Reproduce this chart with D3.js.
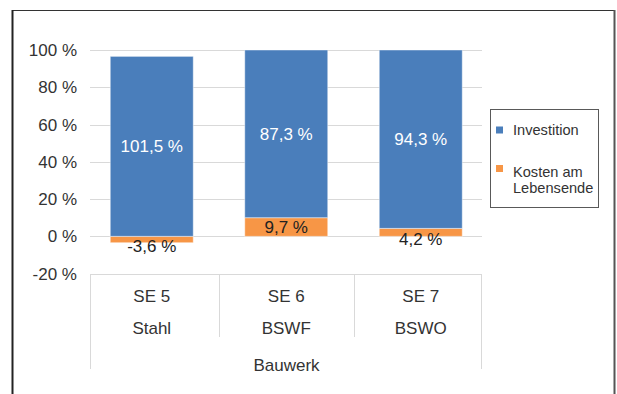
<!DOCTYPE html>
<html>
<head>
<meta charset="utf-8">
<script src="https://cdn.jsdelivr.net/npm/d3@7/dist/d3.min.js"></script>
<style>
  body { margin: 0; background: #fff; }
  text { font-family: "Liberation Sans", Arial, sans-serif; }
</style>
</head>
<body>
<svg id="chart" width="617" height="394"></svg>
<script>
// Kategorien (zweistufige Achse) und Werte je Reihe in %
const kennungen = ["SE 5", "SE 6", "SE 7"];
const bauweisen = ["Stahl", "BSWF", "BSWO"];
const gruppe = "Bauwerk";
const investition = [101.5, 87.3, 94.3];
const kostenLebensende = [-3.6, 9.7, 4.2];
const serien = ["Investition", "Kosten am Lebensende"];
const farben = ["#4a7ebb", "#f79646"];
const yTicks = [-20, 0, 20, 40, 60, 80, 100];

const svg = d3.select("#chart");
// Zahlformat mit Dezimalkomma und einfachem Bindestrich als Minus
const fmt = v => d3.format(".1f")(v).replace(".", ",").replace("\u2212", "-") + " %";

// Rahmen des Diagrammbereichs
svg.append("line").attr("x1", 12).attr("x2", 615).attr("y1", 10.5).attr("y2", 10.5)
  .attr("stroke", "#333").attr("stroke-width", 1);
svg.append("line").attr("x1", 12.5).attr("x2", 12.5).attr("y1", 10).attr("y2", 394)
  .attr("stroke", "#222").attr("stroke-width", 2);
svg.append("line").attr("x1", 614.5).attr("x2", 614.5).attr("y1", 10).attr("y2", 394)
  .attr("stroke", "#555").attr("stroke-width", 2);

const plotLeft = 90, plotRight = 482;
const y = d3.scaleLinear().domain([-20, 100]).range([273.6, 50]);
const x = d3.scaleBand().domain(kennungen).range([84.5, 488]).paddingInner(0).paddingOuter(0);
const barW = x.bandwidth() * 0.617;

// Gitternetzlinien
svg.append("g").selectAll("line").data(yTicks.filter(t => t > -20)).join("line")
  .attr("x1", plotLeft).attr("x2", plotRight)
  .attr("y1", d => Math.round(y(d)) + 0.5).attr("y2", d => Math.round(y(d)) + 0.5)
  .attr("stroke", "#d9d9d9").attr("stroke-width", 1);

// Y-Achsenbeschriftung
svg.append("g").selectAll("text").data(yTicks).join("text")
  .attr("x", 77).attr("y", d => y(d) + 6)
  .attr("text-anchor", "end").attr("font-size", 17).attr("fill", "#333")
  .text(d => d + " %");

// 100-%-gestapelte Werte (Anteil an der Summe der Beträge)
const rows = kennungen.map((k, i) => {
  const tot = Math.abs(investition[i]) + Math.abs(kostenLebensende[i]);
  return { kat: k, inv: investition[i] / tot * 100, kost: kostenLebensende[i] / tot * 100,
           invRaw: investition[i], kostRaw: kostenLebensende[i] };
});
const stack = d3.stack().keys(["kost", "inv"]).offset(d3.stackOffsetDiverging)(rows);
const serieIdx = { inv: 0, kost: 1 };

stack.forEach(layer => {
  const idx = serieIdx[layer.key];
  const g = svg.append("g");
  g.selectAll("rect").data(layer).join("rect")
    .attr("x", d => x(d.data.kat) + (x.bandwidth() - barW) / 2)
    .attr("width", barW)
    .attr("y", d => y(Math.max(d[0], d[1])))
    .attr("height", d => Math.abs(y(d[0]) - y(d[1])))
    .attr("fill", farben[idx])
    .attr("stroke", "rgba(255,255,255,0.45)").attr("stroke-width", 1);

  g.selectAll("text").data(layer).join("text")
    .attr("x", d => x(d.data.kat) + x.bandwidth() / 2)
    .attr("y", d => {
      const mid = (y(d[0]) + y(d[1])) / 2;
      const h = Math.abs(y(d[0]) - y(d[1]));
      return mid + 6 + (h < 12 ? 6.4 : 0);
    })
    .attr("text-anchor", "middle").attr("font-size", 17)
    .attr("fill", idx === 0 ? "#ffffff" : "#222")
    .text(d => fmt(layer.key === "inv" ? d.data.invRaw : d.data.kostRaw));
});

// Zweistufige Kategorienachse
const ax = svg.append("g").attr("stroke", "#d9d9d9").attr("stroke-width", 1);
const yTop = Math.round(y(-20)) + 0.5;
ax.append("line").attr("x1", plotLeft).attr("x2", plotRight).attr("y1", yTop).attr("y2", yTop);
ax.append("line").attr("x1", plotLeft + 0.5).attr("x2", plotLeft + 0.5).attr("y1", yTop).attr("y2", 369);
ax.append("line").attr("x1", plotRight - 0.5).attr("x2", plotRight - 0.5).attr("y1", yTop).attr("y2", 369);
ax.selectAll("line.div").data(kennungen.slice(1)).join("line").attr("class", "div")
  .attr("x1", d => Math.round(x(d)) + 0.5).attr("x2", d => Math.round(x(d)) + 0.5)
  .attr("y1", yTop).attr("y2", 337);

svg.append("g").selectAll("text").data(kennungen).join("text")
  .attr("x", d => x(d) + x.bandwidth() / 2).attr("y", 301.5)
  .attr("text-anchor", "middle").attr("font-size", 17).attr("fill", "#333")
  .text(d => d);
svg.append("g").selectAll("text").data(bauweisen).join("text")
  .attr("x", (d, i) => x(kennungen[i]) + x.bandwidth() / 2).attr("y", 334)
  .attr("text-anchor", "middle").attr("font-size", 17).attr("fill", "#333")
  .text(d => d);
svg.append("text").attr("x", (plotLeft + plotRight) / 2 + 0.5).attr("y", 371)
  .attr("text-anchor", "middle").attr("font-size", 17).attr("fill", "#333")
  .text(gruppe);

// Legende
const lg = svg.append("g");
lg.append("rect").attr("x", 490.5).attr("y", 109.5).attr("width", 108).attr("height", 98)
  .attr("fill", "#fff").attr("stroke", "#595959").attr("stroke-width", 1);
const legendY = [130, 168.5];
serien.forEach((s, i) => {
  lg.append("rect").attr("x", 496).attr("y", legendY[i] - 3.5).attr("width", 7).attr("height", 7)
    .attr("fill", farben[i]);
  const words = s === "Kosten am Lebensende" ? ["Kosten am", "Lebensende"] : [s];
  words.forEach((w, j) => {
    lg.append("text").attr("x", 513).attr("y", legendY[i] + 5 + (i === 1 ? 3 : 0) + j * 16)
      .attr("font-size", 14.6).attr("fill", "#333").text(w);
  });
});
</script>
</body>
</html>
